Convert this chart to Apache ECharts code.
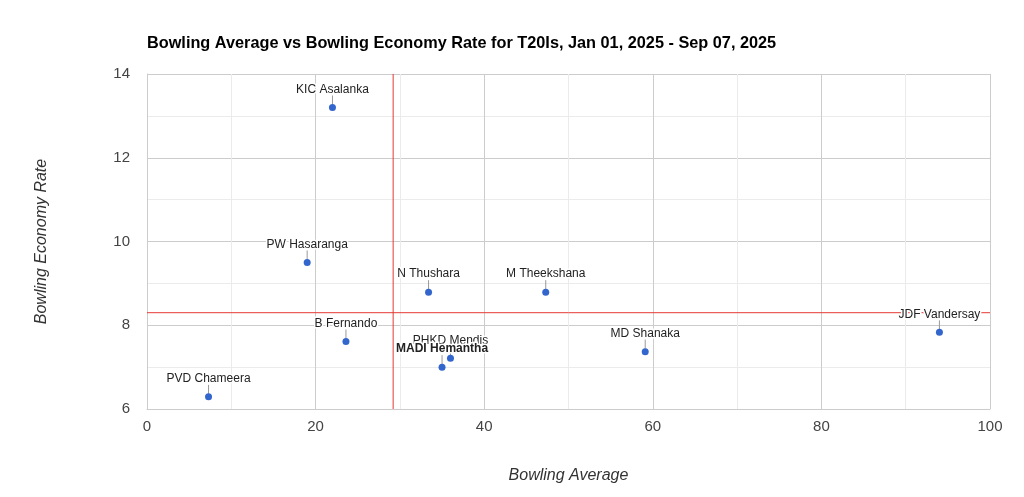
<!DOCTYPE html>
<html>
<head>
<meta charset="utf-8">
<script src="https://cdn.jsdelivr.net/npm/echarts@6/dist/echarts.min.js"></script>
<style>
  html, body { margin: 0; padding: 0; background: #fff; }
  #show { width: 1024px; height: 497px; }
</style>
</head>
<body>
<div id="show"></div>
<script>
var myChart = echarts.init(document.getElementById("show"));

// players and their figures
var players = ["KIC Asalanka", "PW Hasaranga", "N Thushara", "M Theekshana", "B Fernando",
               "PHKD Mendis", "MADI Hemantha", "PVD Chameera", "MD Shanaka", "JDF Vandersay"];
var bowlingAverage = [22.0, 19.0, 33.4, 47.3, 23.6, 36.0, 35.0, 7.3, 59.1, 94.0];
var economyRate   = [13.2, 9.5, 8.79, 8.79, 7.61, 7.21, 7.0, 6.29, 7.37, 7.83];

// axis ranges
var xRange = [0, 100];
var yRange = [6, 14];

// reference lines (averages)
var avgLine = 29.2;
var econLine = 8.3;

var boldName = "MADI Hemantha";

var points = players.map(function (p, i) {
    return [bowlingAverage[i], economyRate[i]];
});

var labelFont = "12px 'Liberation Sans', Arial, sans-serif";
var boldFont = "bold 12px 'Liberation Sans', Arial, sans-serif";
var redLine = { color: '#e53935', width: 1, type: 'solid' };

myChart.setOption(option = {
    animation: false,
    textStyle: { fontFamily: "'Liberation Sans', Arial, sans-serif" },
    title: {
        text: 'Bowling Average vs Bowling Economy Rate for T20Is, Jan 01, 2025 - Sep 07, 2025',
        left: 142,
        top: 31,
        textStyle: { fontSize: 16.3, fontWeight: 'bold', color: '#000' }
    },
    grid: { left: 147, right: 34, top: 74, bottom: 88 },
    xAxis: {
        type: 'value',
        min: xRange[0], max: xRange[1], interval: 20,
        name: 'Bowling Average',
        nameLocation: 'middle',
        nameGap: 59,
        nameTextStyle: { fontSize: 16, fontStyle: 'italic', color: '#333' },
        axisLine: { show: true, lineStyle: { color: '#ccc' } },
        axisTick: { show: false },
        axisLabel: { fontSize: 15, color: '#444', margin: 10 },
        splitLine: { lineStyle: { color: '#ccc' } },
        minorTick: { show: false, splitNumber: 2 },
        minorSplitLine: { show: true, lineStyle: { color: '#ebebeb' } }
    },
    yAxis: {
        type: 'value',
        min: yRange[0], max: yRange[1], interval: 2,
        name: 'Bowling Economy Rate',
        nameLocation: 'middle',
        nameGap: 97,
        nameTextStyle: { fontSize: 16, fontStyle: 'italic', color: '#333' },
        axisLine: { show: true, lineStyle: { color: '#ccc' } },
        axisTick: { show: false },
        axisLabel: { fontSize: 15, color: '#444', margin: 17 },
        splitLine: { lineStyle: { color: '#ccc' } },
        minorTick: { show: false, splitNumber: 2 },
        minorSplitLine: { show: true, lineStyle: { color: '#ebebeb' } }
    },
    series: [
        {
            type: 'line',
            silent: true,
            symbol: 'none',
            z: 3,
            lineStyle: redLine,
            data: [[avgLine, yRange[0]], [avgLine, yRange[1]]]
        },
        {
            type: 'line',
            silent: true,
            symbol: 'none',
            z: 3,
            lineStyle: redLine,
            data: [[xRange[0], econLine], [xRange[1], econLine]]
        },
        {
            type: 'custom',
            z: 5,
            data: points,
            renderItem: function (params, api) {
                var p = api.coord([api.value(0), api.value(1)]);
                var name = players[params.dataIndex];
                var font = name === boldName ? boldFont : labelFont;
                return {
                    type: 'group',
                    children: [
                        {
                            type: 'line',
                            shape: { x1: p[0], y1: p[1] - 3, x2: p[0], y2: p[1] - 12 },
                            style: { stroke: '#999', lineWidth: 1 }
                        },
                        {
                            type: 'circle',
                            shape: { cx: p[0], cy: p[1], r: 3.5 },
                            style: { fill: '#3366cc' }
                        },
                        {
                            type: 'text',
                            style: {
                                text: name, x: p[0], y: p[1] - 18,
                                align: 'center', verticalAlign: 'middle',
                                font: font, fill: 'none', stroke: '#fff', lineWidth: 3
                            }
                        },
                        {
                            type: 'text',
                            style: {
                                text: name, x: p[0], y: p[1] - 18,
                                align: 'center', verticalAlign: 'middle',
                                font: font, fill: '#222'
                            }
                        }
                    ]
                };
            }
        }
    ]
});
</script>
</body>
</html>
